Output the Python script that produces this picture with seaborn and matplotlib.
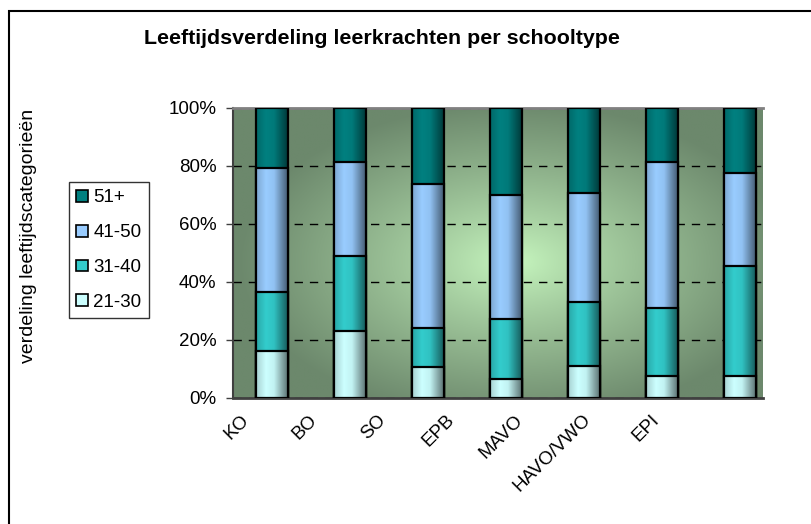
import numpy as np
import pandas as pd
import matplotlib
matplotlib.use("Agg")
import matplotlib.pyplot as plt
import seaborn as sns
from matplotlib.patches import Patch, Rectangle
from matplotlib.colors import to_rgb

# Data (percentages)
schooltypes = ['KO', 'BO', 'SO', 'EPB', 'MAVO', 'HAVO/VWO', 'EPI']
age_groups = ['21-30', '31-40', '41-50', '51+']
pct_21_30 = [16.3, 23.2, 10.6, 6.4, 11.2, 7.5, 7.5]
pct_31_40 = [20.3, 25.9, 13.6, 20.9, 21.8, 23.6, 38.0]
pct_41_50 = [42.8, 32.3, 49.7, 42.8, 37.8, 50.2, 32.2]
pct_51_plus = [20.6, 18.6, 26.1, 29.9, 29.2, 18.7, 22.3]
y_ticks = [0, 20, 40, 60, 80, 100]

colors = {'21-30': '#ccffff', '31-40': '#33cccc', '41-50': '#99ccff', '51+': '#008080'}

df = pd.DataFrame({'schooltype': schooltypes, '21-30': pct_21_30, '31-40': pct_31_40,
                   '41-50': pct_41_50, '51+': pct_51_plus})
long = df.melt(id_vars='schooltype', var_name='leeftijd', value_name='pct')
long['cum'] = long.groupby('schooltype')['pct'].cumsum()

sns.set_theme(style='ticks')
plt.rcParams['font.family'] = ['Liberation Sans', 'DejaVu Sans']
plt.rcParams.update({'text.color': 'black', 'axes.labelcolor': 'black',
                     'xtick.color': 'black', 'ytick.color': 'black'})

fig = plt.figure(figsize=(8.12, 5.24), dpi=100)
ax = fig.add_axes([233 / 812, 126 / 524, 530 / 812, 290 / 524])


def bar_gradient(color, n=64):
    base = np.array(to_rgb(color))
    t = np.linspace(0, 1, n)
    shade = np.interp(t, [0, 0.3, 0.55, 1], [0.82, 1.0, 0.95, 0.42])
    return np.clip(base[None, :] * shade[:, None], 0, 1)[None, :, :]


# stacked bars: draw cumulative totals from the top group down
z = 3
for grp in age_groups[::-1]:
    sub = long[long['leeftijd'] == grp]
    n_before = len(ax.patches)
    sns.barplot(data=sub, x='schooltype', y='cum', order=schooltypes, color=colors[grp],
                width=0.41, edgecolor='black', linewidth=1.6, ax=ax, zorder=z + 1)
    for p in ax.patches[n_before:]:
        x0, w, h = p.get_x(), p.get_width(), p.get_height()
        ax.imshow(bar_gradient(colors[grp]), extent=[x0, x0 + w, 0, h], aspect='auto',
                  interpolation='bilinear', zorder=z, clip_path=p)
        p.set_facecolor('none')
    z += 2

# plot area background gradient
yy, xx = np.mgrid[0:1:200j, 0:1:300j]
d = np.sqrt(((xx - 0.53) / 0.52) ** 2 + ((yy - 0.47) / 0.55) ** 2)
d = np.clip(d, 0, 1) ** 0.85
light = np.array(to_rgb('#c8f8c0'))
dark = np.array(to_rgb('#6c886c'))
bg = light * (1 - d[..., None]) + dark * d[..., None]
ax.imshow(bg, extent=[0, 1, 0, 1], transform=ax.transAxes, origin='lower',
          aspect='auto', zorder=0)

ax.set_xlim(-0.5, 6.29)
ax.set_ylim(0, 100)
ax.set_yticks(y_ticks, [f'{v}%' for v in y_ticks])
ax.set_axisbelow(True)
ax.yaxis.grid(True, linestyle=(0, (6, 5)), color='black', linewidth=1)
ax.xaxis.grid(False)

# category labels sit a bit compressed to the left, as in the original
label_x = np.arange(len(schooltypes)) * 0.876 - 0.33
ax.set_xticks(label_x, schooltypes, rotation=45, ha='right', va='center',
              rotation_mode='anchor')
ax.tick_params(axis='x', length=0, pad=14, labelsize=13.5)
ax.tick_params(axis='y', length=5, width=1, color='#404040', pad=7, labelsize=13.5, left=True)
ax.set_xlabel('')
ax.set_ylabel('verdeling leeftijdscategorieën', fontsize=14)
ax.yaxis.set_label_coords(-0.37, 0.559)

ax.spines['right'].set_visible(False)
ax.spines['top'].set_color('#808080')
ax.spines['top'].set_linewidth(2)
ax.spines['left'].set_color('#404040')
ax.spines['left'].set_linewidth(1.5)
ax.spines['bottom'].set_color('#404040')
ax.spines['bottom'].set_linewidth(2)

fig.suptitle('Leeftijdsverdeling leerkrachten per schooltype', x=382 / 812, y=1 - 39 / 524,
             va='center', fontsize=15.4, fontweight='bold')

handles = [Patch(facecolor=colors[g], edgecolor='black', linewidth=1.2, label=g)
           for g in age_groups[::-1]]
leg = fig.legend(handles=handles, loc='upper left', bbox_to_anchor=(69 / 812, 1 - 182 / 524),
                 borderaxespad=0, frameon=True, fancybox=False, edgecolor='black',
                 fontsize=13.5, handlelength=0.6, handleheight=0.6, handletextpad=0.3,
                 labelspacing=0.95, borderpad=0.4)
leg.get_frame().set_linewidth(1.0)

# outer chart frame
fig.patches.append(Rectangle((9 / 812, -0.1), 2, 1.1 - 11 / 524, transform=fig.transFigure,
                             fill=False, edgecolor='black', linewidth=1.5))

fig.savefig('out.png', dpi=100)
